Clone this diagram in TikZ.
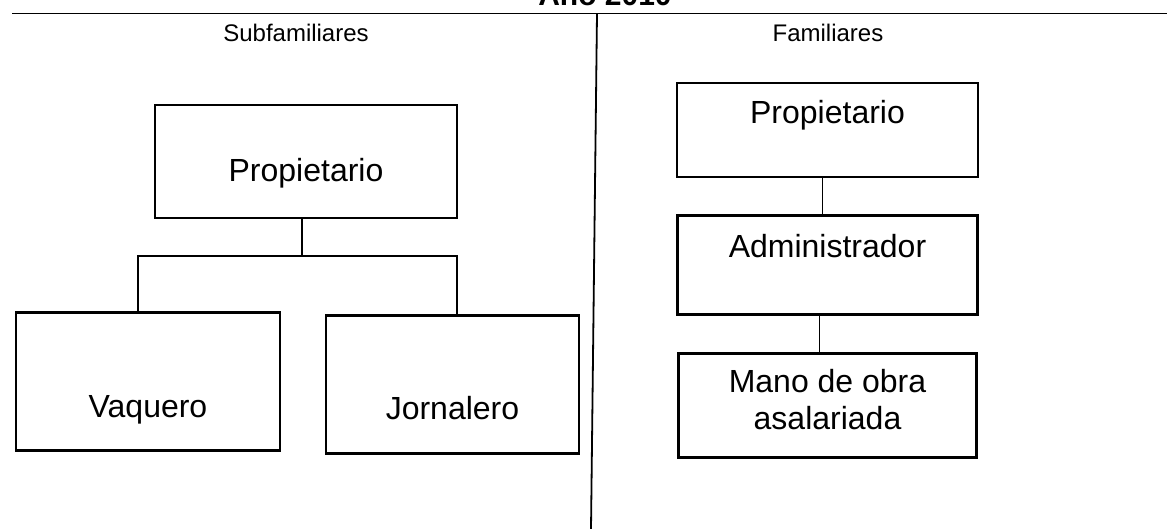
\documentclass[tikz,border=0pt]{standalone}
\usepackage{fontspec}
\setmainfont{Liberation Sans}
\usetikzlibrary{positioning}

\begin{document}
\begin{tikzpicture}[
  x=0.5pt, y=-0.5pt,
  node distance=18pt,
  rolebox/.style={draw, line width=1.3pt, inner sep=0pt, align=center,
    font=\fontsize{16}{18.5}\selectfont},
  lowtext/.style={text height=#1, text depth=3.5pt},
  hightext/.style={text height=11.7pt, text depth=#1},
  link/.style={line width=0.9pt},
  colhead/.style={anchor=base, font=\fontsize{12}{14}\selectfont}
]
\path[use as bounding box, clip] (0,0) rectangle (1167,529);

% title and column heads
\node[anchor=base, font=\bfseries\fontsize{15}{18}\selectfont] (title) at (605,6) {Año 2010};
\coordinate (ruleL) at (12,13.5);
\coordinate (ruleR) at (1167,13.5);
\coordinate (divtop) at (597,13.5);
\coordinate (divbot) at (591,529);
\draw[link] (ruleL) -- (ruleR);
\draw[link] (divtop) -- (divbot);

\node[colhead] (subfam) at (296,42) {Subfamiliares};
\node[colhead] (fam) at (828,42) {Familiares};

% left column
\node[rolebox, lowtext=24pt, minimum width=151pt, minimum height=56.5pt] (lprop) at (306,161.5) {Propietario};
\node[rolebox, lowtext=39.5pt, minimum width=132pt, minimum height=69pt,
  below=46pt of lprop, xshift=-79pt] (vaq) {Vaquero};
\node[rolebox, lowtext=38.5pt, minimum width=126.5pt, minimum height=69pt,
  below=47.5pt of lprop, xshift=73.25pt] (jor) {Jornalero};

\coordinate (fork) at (302,256);
\draw[link] (fork |- lprop.south) -- (fork);
\draw[link] ([xshift=-5pt]vaq.north) |- (fork) -| ([xshift=2.25pt]jor.north);

% right column
\node[rolebox, hightext=18.5pt, minimum width=150.5pt, minimum height=47pt] (rprop) at (827.5,130) {Propietario};
\node[rolebox, hightext=19.2pt, minimum width=150pt, minimum height=49.5pt, below=of rprop] (adm) {Administrador};
\node[rolebox, text depth=6pt, minimum width=149pt, minimum height=52pt, below=of adm] (mano) {Mano de obra\\asalariada};

\draw[link] ([xshift=-2.5pt]rprop.south) -- ([xshift=-2.5pt]rprop.south |- adm.north);
\draw[link] ([xshift=-4pt]adm.south) -- ([xshift=-4pt]adm.south |- mano.north);

\end{tikzpicture}
\end{document}
